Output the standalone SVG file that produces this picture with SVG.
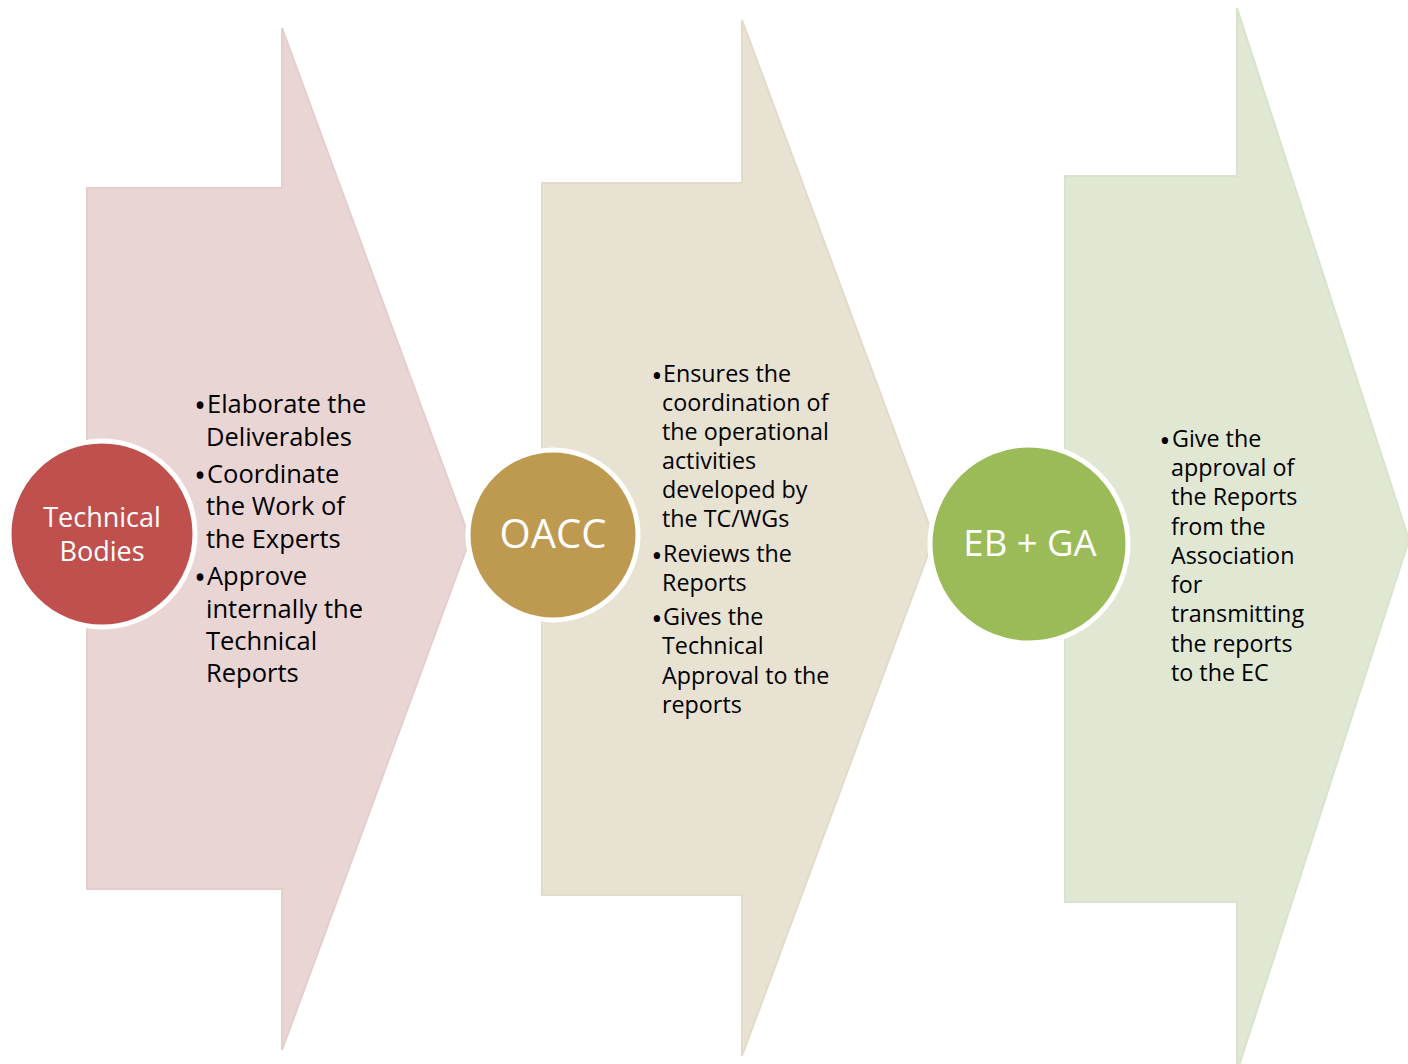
<svg xmlns="http://www.w3.org/2000/svg" width="1408" height="1064" viewBox="0 0 1408 1064">
<style>
.arrow{stroke-width:2;stroke-linejoin:miter}
.a1{fill:#EAD5D5;stroke:#E5CDCD}
.a2{fill:#E8E2D3;stroke:#E3DBC9}
.a3{fill:#E0E8D4;stroke:#D9E3CB}
.circ{stroke:#FFFFFF;stroke-width:5}
.lbl{font-family:"Open Sans","Liberation Sans",sans-serif;fill:#FFFFFF;text-anchor:middle}
.body{font-family:"Open Sans","Liberation Sans",sans-serif;fill:#000000}
.b1{font-size:25.5px}
.b2{font-size:23.3px}
.bul{font-family:"Open Sans","Liberation Sans",sans-serif;fill:#000000;text-anchor:middle}
.u1{font-size:32px}
.u2{font-size:30px}
</style>
<rect x="0" y="0" width="1408" height="1064" fill="#FFFFFF"/>
<g id="connectors">
<path id="arrow1" class="arrow a1" d="M87,188 L282,188 L282,28 L470,539 L282,1050 L282,889 L87,889 Z"/>
<path id="arrow2" class="arrow a2" d="M542,183 L742,183 L742,20 L934,538 L742,1056 L742,895 L542,895 Z"/>
<path id="arrow3" class="arrow a3" d="M1065,176 L1237,176 L1237,8 L1409,540 L1237,1072 L1237,902 L1065,902 Z"/>
</g>
<g id="text-technical-bodies" class="body b1">
<text class="bul u1" x="200" y="417">•</text>
<text class="bul u1" x="200" y="487">•</text>
<text class="bul u1" x="200" y="589">•</text>
<text x="207" y="413">Elaborate the</text>
<text x="206" y="446">Deliverables</text>
<text x="207" y="483">Coordinate</text>
<text x="206" y="515">the Work of</text>
<text x="206" y="548">the Experts</text>
<text x="207" y="585">Approve</text>
<text x="206" y="618">internally the</text>
<text x="206" y="650">Technical</text>
<text x="206" y="682">Reports</text>
</g>
<g id="text-oacc" class="body b2">
<text class="bul u2" x="657" y="386">•</text>
<text class="bul u2" x="657" y="566">•</text>
<text class="bul u2" x="657" y="629">•</text>
<text x="663" y="382">Ensures the</text>
<text x="662" y="411">coordination of</text>
<text x="662" y="440">the operational</text>
<text x="662" y="469">activities</text>
<text x="662" y="498">developed by</text>
<text x="662" y="527">the TC/WGs</text>
<text x="663" y="562">Reviews the</text>
<text x="662" y="591">Reports</text>
<text x="663" y="625">Gives the</text>
<text x="662" y="654">Technical</text>
<text x="662" y="684">Approval to the</text>
<text x="662" y="713">reports</text>
</g>
<g id="text-ebga" class="body b2">
<text class="bul u2" x="1165" y="451">•</text>
<text x="1172" y="447">Give the</text>
<text x="1171" y="476">approval of</text>
<text x="1171" y="505">the Reports</text>
<text x="1171" y="535">from the</text>
<text x="1171" y="564">Association</text>
<text x="1171" y="593">for</text>
<text x="1171" y="622">transmitting</text>
<text x="1171" y="652">the reports</text>
<text x="1171" y="681">to the EC</text>
</g>
<g id="node-technical-bodies">
<circle class="circ" cx="102" cy="534" r="93" fill="#C0504D"/>
<text class="lbl" x="102" y="527" font-size="27">Technical</text>
<text class="lbl" x="102" y="561" font-size="27">Bodies</text>
</g>
<g id="node-oacc">
<circle class="circ" cx="553" cy="535" r="85" fill="#BE9A51"/>
<text class="lbl" x="553" y="548" font-size="40">OACC</text>
</g>
<g id="node-ebga">
<circle class="circ" cx="1029" cy="544" r="99" fill="#9BBB59"/>
<text class="lbl" x="1030" y="556" font-size="36.5">EB + GA</text>
</g>
</svg>
